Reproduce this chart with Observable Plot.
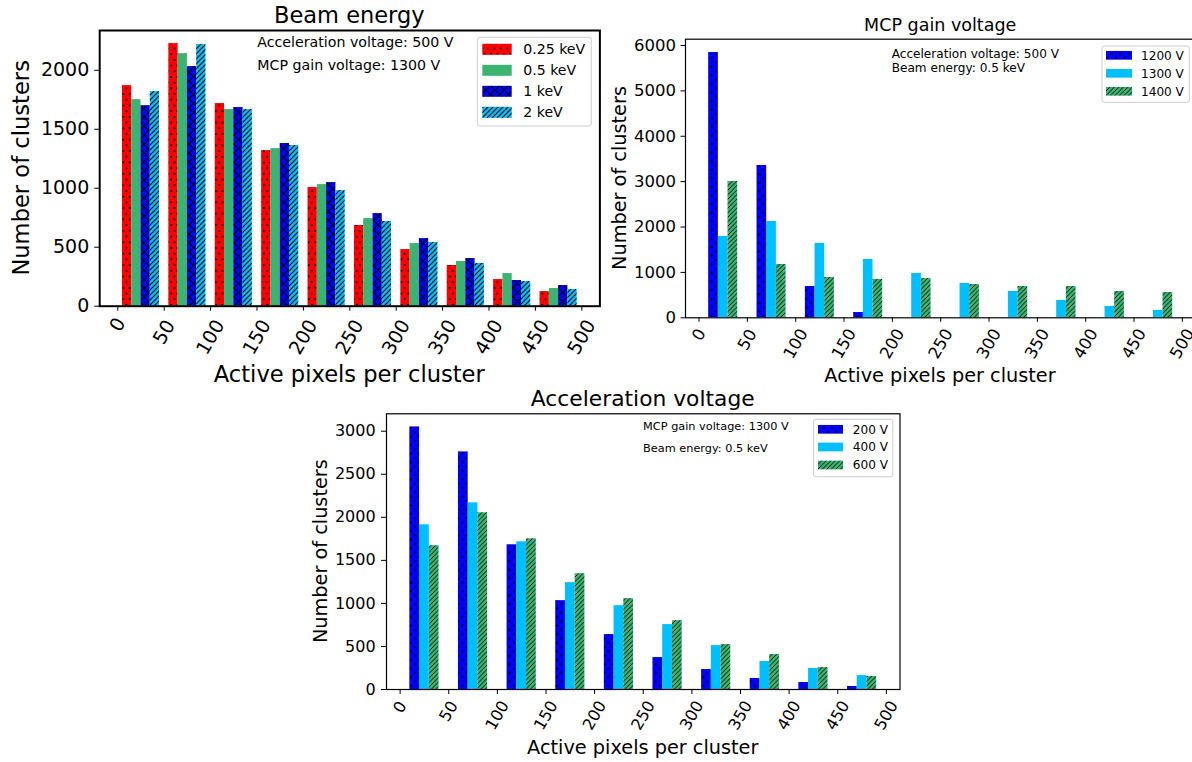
<!DOCTYPE html>
<html><head><meta charset="utf-8">
<script src="https://cdn.jsdelivr.net/npm/d3@7"></script>
<script src="https://cdn.jsdelivr.net/npm/@observablehq/plot@0.6"></script>
<style>
html,body{margin:0;padding:0;background:#fff;}
#wrap{position:relative;width:1192px;height:762px;overflow:hidden;background:#fff;font-family:"DejaVu Sans",sans-serif;}
#wrap svg{position:absolute;left:0;top:0;max-width:none;}
</style></head><body>
<svg width="0" height="0" style="position:absolute" id="defs-svg"><defs id="pdefs"></defs></svg>
<div id="wrap"></div>
<script>
// ---------------- data ----------------
const binStarts = [0, 50, 100, 150, 200, 250, 300, 350, 400, 450];
const xTickValues = [0, 50, 100, 150, 200, 250, 300, 350, 400, 450, 500];

const beamTitle = "Beam energy";
const beamLabels = ["0.25 keV", "0.5 keV", "1 keV", "2 keV"];
const beam025 = [1870, 2226, 1718, 1319, 1006, 684, 480, 345, 226, 124];
const beam05  = [1751, 2141, 1667, 1336, 1031, 743, 531, 379, 277, 150];
const beam1   = [1700, 2031, 1684, 1379, 1048, 785, 573, 404, 218, 175];
const beam2   = [1819, 2218, 1667, 1362, 980, 718, 540, 362, 209, 141];
const beamYTicks = [0, 500, 1000, 1500, 2000];
const beamNotes = ["Acceleration voltage: 500 V", "MCP gain voltage: 1300 V"];

const mcpTitle = "MCP gain voltage";
const mcpLabels = ["1200 V", "1300 V", "1400 V"];
const mcp1200 = [5846, 3356, 690, 117, 0, 0, 0, 0, 0, 0];
const mcp1300 = [1792, 2122, 1638, 1285, 977, 756, 580, 382, 250, 162];
const mcp1400 = [3004, 1175, 889, 845, 867, 734, 690, 690, 580, 558];
const mcpYTicks = [0, 1000, 2000, 3000, 4000, 5000, 6000];
const mcpNotes = ["Acceleration voltage: 500 V", "Beam energy: 0.5 keV"];

const accTitle = "Acceleration voltage";
const accLabels = ["200 V", "400 V", "600 V"];
const acc200 = [3050, 2760, 1681, 1032, 638, 371, 232, 128, 81, 35];
const acc400 = [1913, 2168, 1716, 1241, 974, 754, 510, 325, 244, 162];
const acc600 = [1670, 2053, 1751, 1345, 1055, 800, 522, 406, 255, 151];
const accYTicks = [0, 500, 1000, 1500, 2000, 2500, 3000];
const accNotes = ["MCP gain voltage: 1300 V", "Beam energy: 0.5 keV"];

const xLabel = "Active pixels per cluster";
const yLabel = "Number of clusters";

// ---------------- patterns ----------------
const RED = "#ff0000", GREEN = "#3cb371", BLUE = "#0000ff", CYAN = "#00bfff";
const defs = d3.select("#pdefs");
function pat(id, w, h) {
  return defs.append("pattern").attr("id", id).attr("patternUnits", "userSpaceOnUse")
    .attr("width", w).attr("height", h);
}
function solid(id, bg) {
  const p = pat(id, 4, 4);
  p.append("rect").attr("width", 4).attr("height", 4).attr("fill", bg);
}
function dots(id, bg, w, h, r) {
  const p = pat(id, w, h);
  p.append("rect").attr("width", w).attr("height", h).attr("fill", bg);
  [[w / 4, h / 4], [3 * w / 4, 3 * h / 4]].forEach(([cx, cy]) =>
    p.append("circle").attr("cx", cx).attr("cy", cy).attr("r", r).attr("fill", "#000"));
}
function cross(id, bg, s, sw) {
  const p = pat(id, s, s);
  p.append("rect").attr("width", s).attr("height", s).attr("fill", bg);
  p.append("path").attr("d", `M0,0L${s},${s}M0,${s}L${s},0`).attr("stroke", "#000").attr("stroke-width", sw);
}
function diag(id, bg, s, sw) {
  const p = pat(id, s, s);
  p.append("rect").attr("width", s).attr("height", s).attr("fill", bg);
  p.append("path").attr("d", `M0,${s}L${s},0M${-s / 2},${s / 2}L${s / 2},${-s / 2}M${s / 2},${s * 1.5}L${s * 1.5},${s / 2}`)
    .attr("stroke", "#000").attr("stroke-width", sw);
}
dots("dotsRed", RED, 6.4, 11.4, 1.05);
dots("dotsBlue", BLUE, 8.6, 8.6, 1.1);
cross("crossBlue", BLUE, 9, 1.1);
diag("diagCyan", CYAN, 5, 1.1);
diag("diagGreen", GREEN, 4.5, 0.9);
solid("sg", GREEN);
solid("sc", CYAN);

// ---------------- panel builder ----------------
function panel(cfg) {
  const W = cfg.svgW, H = 762;
  const f = cfg.frame;
  const yMax = d3.max(cfg.series.flat()) * 1.05;
  const marks = [];
  cfg.series.forEach((vals, s) => {
    const rows = binStarts.map((b, i) => ({b, v: vals[i]}));
    marks.push(Plot.rect(rows, {
      x1: d => d.b + cfg.barStart + s * cfg.barW,
      x2: d => d.b + cfg.barStart + (s + 1) * cfg.barW,
      y1: 0, y2: "v",
      fill: `url(#${cfg.fills[s]})`
    }));
  });
  marks.push(Plot.axisY({ticks: cfg.yTicks, tickSize: cfg.tickLen, tickPadding: cfg.yPad,
    tickFormat: d => String(d), label: null, fontSize: cfg.tickFont}));
  marks.push(Plot.axisX({ticks: xTickValues, tickSize: cfg.tickLen, tickFormat: () => "", label: null}));
  [1, 2, 3].forEach(n => {
    marks.push(Plot.text(xTickValues.filter(d => String(d).length === n), {
      x: d => d, text: d => String(d), frameAnchor: "bottom", rotate: -60,
      textAnchor: "middle", lineAnchor: "middle", dy: cfg.xOff[n], fontSize: cfg.tickFont, fill: "black"
    }));
  });
  marks.push(Plot.frame({stroke: "black", strokeWidth: cfg.spine}));

  const svg = Plot.plot({
    width: W, height: H,
    marginLeft: f.l, marginRight: W - f.r, marginTop: f.t, marginBottom: H - f.b,
    x: {domain: cfg.xDomain},
    y: {domain: [0, yMax]},
    style: {fontFamily: "DejaVu Sans", fontSize: cfg.tickFont + "px", color: "black",
      background: "transparent", overflow: "visible", maxWidth: "none"},
    marks
  });
  const g = d3.select(svg);
  function txt(x, y, t, size, anchor, rot) {
    const e = g.append("text").attr("x", x).attr("y", y).attr("font-size", size)
      .attr("font-family", "DejaVu Sans").attr("fill", "black")
      .attr("text-anchor", anchor || "start").text(t);
    if (rot) e.attr("transform", `rotate(${rot},${x},${y})`);
    return e;
  }
  const cx = (f.l + f.r) / 2, cy = (f.t + f.b) / 2;
  txt(cx, cfg.titleY, cfg.title, cfg.titleFont, "middle");
  txt(cfg.xLabelX ?? cx, cfg.xLabelY, xLabel, cfg.labelFont, "middle");
  txt(cfg.yLabelX, cy, yLabel, cfg.labelFont, "middle", -90);
  cfg.notes.forEach((n, i) => txt(cfg.noteX, cfg.noteY[i], n, cfg.noteFont, "start"));
  const L = cfg.legend;
  g.append("rect").attr("x", L.x).attr("y", L.y).attr("width", L.w).attr("height", L.h)
    .attr("rx", 2.5).attr("fill", "white").attr("fill-opacity", 0.8)
    .attr("stroke", "#cccccc").attr("stroke-width", 1);
  cfg.labels.forEach((lab, i) => {
    g.append("rect").attr("x", L.px).attr("y", L.rows[i] - L.ph / 2).attr("width", L.pw).attr("height", L.ph)
      .attr("fill", `url(#${cfg.fills[i]})`);
    txt(L.tx, L.rows[i] + L.font * 0.36, lab, L.font, "start");
  });
  document.getElementById("wrap").appendChild(svg);
}

panel({
  svgW: 1192, frame: {l: 99.2, r: 599.4, t: 30, b: 305.7}, xDomain: [-19.5, 519.5],
  series: [beam025, beam05, beam1, beam2], fills: ["dotsRed", "sg", "crossBlue", "diagCyan"],
  labels: beamLabels, yTicks: beamYTicks, barStart: 5, barW: 10,
  tickFont: 19, labelFont: 22.6, titleFont: 22.5, spine: 2, tickLen: 5, yPad: 5.4,
  xOff: {1: 18.5, 2: 26, 3: 31}, title: beamTitle, titleY: 23.1, xLabelY: 381.5, yLabelX: 29,
  notes: beamNotes, noteX: 257.3, noteY: [46.5, 69.7], noteFont: 14.2,
  legend: {x: 477.3, y: 37.3, w: 114, h: 88.7, px: 482.3, pw: 29.4, ph: 11, rows: [49.3, 70.3, 91.3, 112.3], tx: 523.3, font: 14.1}
});
panel({
  svgW: 1215, frame: {l: 685, r: 1195.4, t: 38.7, b: 317.3}, xDomain: [-14, 514],
  series: [mcp1200, mcp1300, mcp1400], fills: ["dotsBlue", "sc", "diagGreen"],
  labels: mcpLabels, yTicks: mcpYTicks, barStart: 10, barW: 10,
  tickFont: 16.5, labelFont: 19.3, titleFont: 17.5, spine: 1.2, tickLen: 4.5, yPad: 5,
  xOff: {1: 17, 2: 22, 3: 26}, title: mcpTitle, titleY: 30.9, xLabelY: 382.4, xLabelX: 940, yLabelX: 626,
  notes: mcpNotes, noteX: 891.7, noteY: [58.1, 71.5], noteFont: 12.1,
  legend: {x: 1102, y: 46, w: 87.3, h: 56.3, px: 1106, pw: 26, ph: 8.7, rows: [55.3, 73.3, 91.3], tx: 1141, font: 12.1}
});
panel({
  svgW: 1192, frame: {l: 386, r: 899.5, t: 413.3, b: 689}, xDomain: [-14, 514],
  series: [acc200, acc400, acc600], fills: ["dotsBlue", "sc", "diagGreen"],
  labels: accLabels, yTicks: accYTicks, barStart: 10, barW: 10,
  tickFont: 16, labelFont: 19.3, titleFont: 21.8, spine: 1.2, tickLen: 5, yPad: 5.9,
  xOff: {1: 17.7, 2: 22, 3: 26}, title: accTitle, titleY: 405.9, xLabelY: 754, yLabelX: 327,
  notes: accNotes, noteX: 643.1, noteY: [429.9, 452.2], noteFont: 11.3,
  legend: {x: 813.6, y: 419.3, w: 79.2, h: 57.4, px: 818, pw: 25, ph: 8.7, rows: [429.3, 447, 465], tx: 852.8, font: 12.1}
});
</script>
</body></html>
